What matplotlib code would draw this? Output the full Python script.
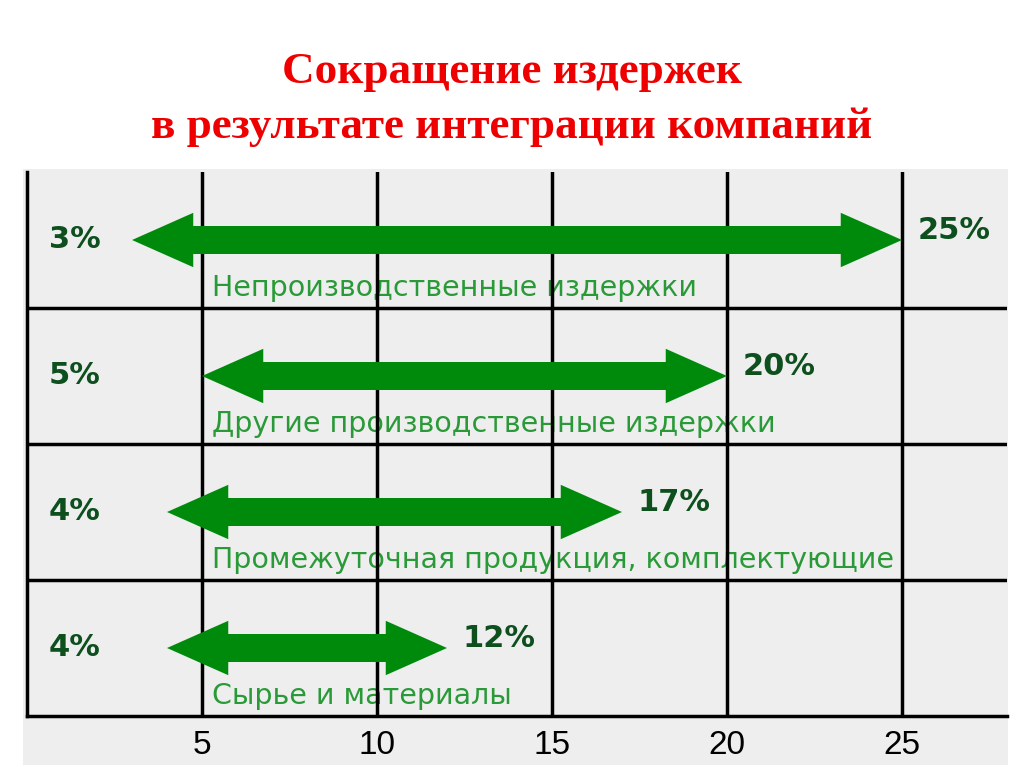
import matplotlib.pyplot as plt
from matplotlib.patches import Rectangle

# данные
categories = ['Непроизводственные издержки',
              'Другие производственные издержки',
              'Промежуточная продукция, комплектующие',
              'Сырье и материалы']
low = [3, 5, 4, 4]
high = [25, 20, 17, 12]
ticks = [5, 10, 15, 20, 25]

arrow_green = '#008a0c'
text_green = '#2a9a38'
pct_green = '#0e4f1e'

fig = plt.figure(figsize=(10.24, 7.67), dpi=100)
ax = fig.add_axes([27 / 1024, 51 / 767, 980 / 1024, 544 / 767])
ax.set_facecolor('none')

# серый фон вместе с полосой подписей
fig.patches.append(Rectangle((23 / 1024, 2 / 767), 985 / 1024, 596 / 767,
                             transform=fig.transFigure, facecolor='#eeeeee',
                             edgecolor='none', zorder=-10))

ax.set_xlim(0, 28)
ax.set_ylim(0, 4)

# стрелки
hl = 1.75   # длина наконечника
hh = 0.2    # половина высоты наконечника
sh = 0.103  # половина толщины стрелки
for i in range(len(categories)):
    yc = 3.5 - i
    lo, hi = low[i], high[i]
    xs = [lo, lo + hl, lo + hl, hi - hl, hi - hl, hi, hi - hl, hi - hl, lo + hl, lo + hl]
    ys = [yc, yc + hh, yc + sh, yc + sh, yc + hh, yc, yc - hh, yc - sh, yc - sh, yc - hh]
    ax.fill(xs, ys, color=arrow_green, lw=0, zorder=4)
    ax.text(1.37, yc, f'{lo}%', ha='center', va='center', fontsize=22,
            fontweight='bold', color=pct_green, zorder=5)
    ax.text(hi + 0.45, yc + 0.07, f'{hi}%', ha='left', va='center', fontsize=22,
            fontweight='bold', color=pct_green, zorder=5)
    ax.text(5.3, yc - 0.35, categories[i], ha='left', va='center', fontsize=20.5,
            color=text_green, zorder=1.5)

# сетка
ax.set_xticks(ticks)
ax.set_yticks([1, 2, 3])
ax.set_yticklabels([])
ax.grid(True, color='black', linewidth=2.5, zorder=2)
ax.set_axisbelow(False)
for s in ['top', 'right']:
    ax.spines[s].set_visible(False)
for s in ['left', 'bottom']:
    ax.spines[s].set_linewidth(2.5)
ax.tick_params(axis='both', length=0)
ax.tick_params(axis='x', pad=10, labelsize=24)
for lab in ax.get_xticklabels():
    lab.set_family('Liberation Sans')

# заголовок
fig.text(0.5, 1 - 72 / 767, 'Сокращение издержек', ha='center', va='center',
         fontsize=32.5, fontweight='bold', family='Liberation Serif', color='#ee0000')
fig.text(0.5, 1 - 127 / 767, 'в результате интеграции компаний', ha='center', va='center',
         fontsize=32.5, fontweight='bold', family='Liberation Serif', color='#ee0000')

fig.savefig('out.png', dpi=100)
